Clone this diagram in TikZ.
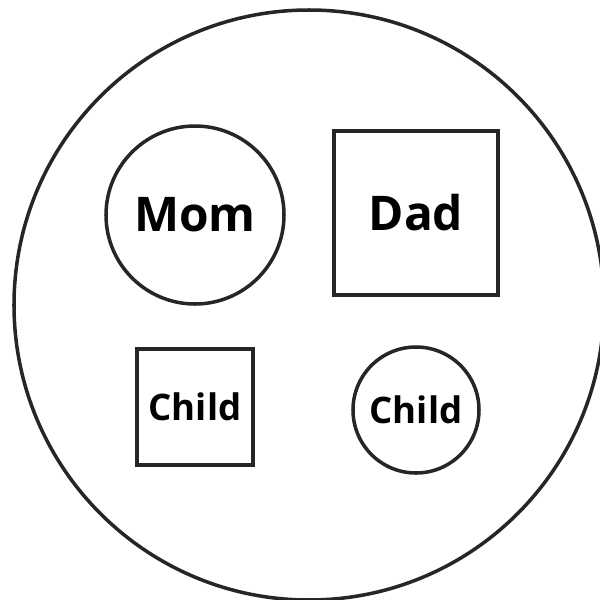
\documentclass[tikz,border=0pt]{standalone}
\usepackage{fontspec}
\setmainfont{Open Sans}
\begin{document}
\begin{tikzpicture}[
    line width=2.5pt, draw=black!85,
    fam/.style={circle, draw, line width=2.5pt, minimum size=14.75cm},
    mom/.style={circle, draw, line width=2.5pt, minimum size=4.45cm, font=\bfseries\fontsize{34}{36}\selectfont},
    dad/.style={rectangle, draw, line width=2.5pt, minimum size=4.1cm, font=\bfseries\fontsize{34}{36}\selectfont},
    kidsq/.style={rectangle, draw, line width=2.5pt, minimum size=2.9cm, font=\bfseries\fontsize{26}{28}\selectfont},
    kidci/.style={circle, draw, line width=2.5pt, minimum size=3.15cm, font=\bfseries\fontsize{26}{28}\selectfont}
  ]
    \useasboundingbox (0,0) rectangle (15,-15);
    \node[fam] (family) at (7.725,-7.625) {};
    \node[mom] (mom) at (4.875,-5.375) {Mom};
    \node[dad] (dad) at (10.4,-5.325) {Dad};
    \node[kidsq] (child1) at (4.875,-10.175) {Child};
    \node[kidci] (child2) at (10.4,-10.25) {Child};
  \end{tikzpicture}
\end{document}
